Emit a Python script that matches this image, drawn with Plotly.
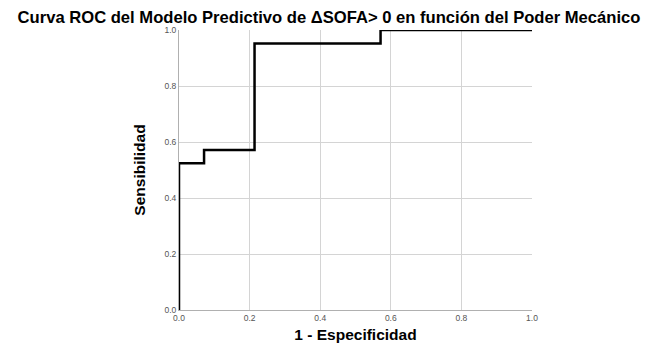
import plotly.graph_objects as go

# ROC curve points (1 - Especificidad, Sensibilidad)
fpr = [0.0, 0.0, 0.071, 0.071, 0.214, 0.214, 0.571, 0.571, 1.0]
tpr = [0.0, 0.524, 0.524, 0.571, 0.571, 0.952, 0.952, 1.0, 1.0]
tick_vals = [0.0, 0.2, 0.4, 0.6, 0.8, 1.0]
tick_text = ["0.0", "0.2", "0.4", "0.6", "0.8", "1.0"]

fig = go.Figure()
fig.add_trace(go.Scatter(x=fpr, y=tpr, mode="lines",
                         line=dict(color="black", width=2.5, shape="linear"),
                         showlegend=False, hoverinfo="skip"))

axis_common = dict(range=[0, 1], tickvals=tick_vals, ticktext=tick_text,
                   showgrid=True, gridcolor="#d4d4d4", gridwidth=1,
                   zeroline=False, showline=True, linecolor="#b0b0b0", linewidth=1,
                   automargin=False,
                   ticks="", tickfont=dict(family="Arial, Liberation Sans", size=8.5, color="#555555"))

fig.update_layout(
    width=642, height=335,
    margin=dict(l=171, r=118, t=22, b=33),
    paper_bgcolor="white", plot_bgcolor="white",
    title=dict(text="<b>Curva ROC del Modelo Predictivo de ΔSOFA> 0 en función del Poder Mecánico</b>",
               x=0.5, xanchor="center", y=0.974, yanchor="middle",
               font=dict(family="Arial, Liberation Sans", size=16.6, color="black")),
    xaxis=dict(**axis_common,
               title=dict(text="<b>1 - Especificidad</b>", standoff=7,
                          font=dict(family="Arial, Liberation Sans", size=15.5, color="black"))),
    yaxis=dict(**axis_common,
               title=dict(text="<b>Sensibilidad</b>", standoff=15,
                          font=dict(family="Arial, Liberation Sans", size=15.5, color="black"))),
)

fig.write_html("out.html")
